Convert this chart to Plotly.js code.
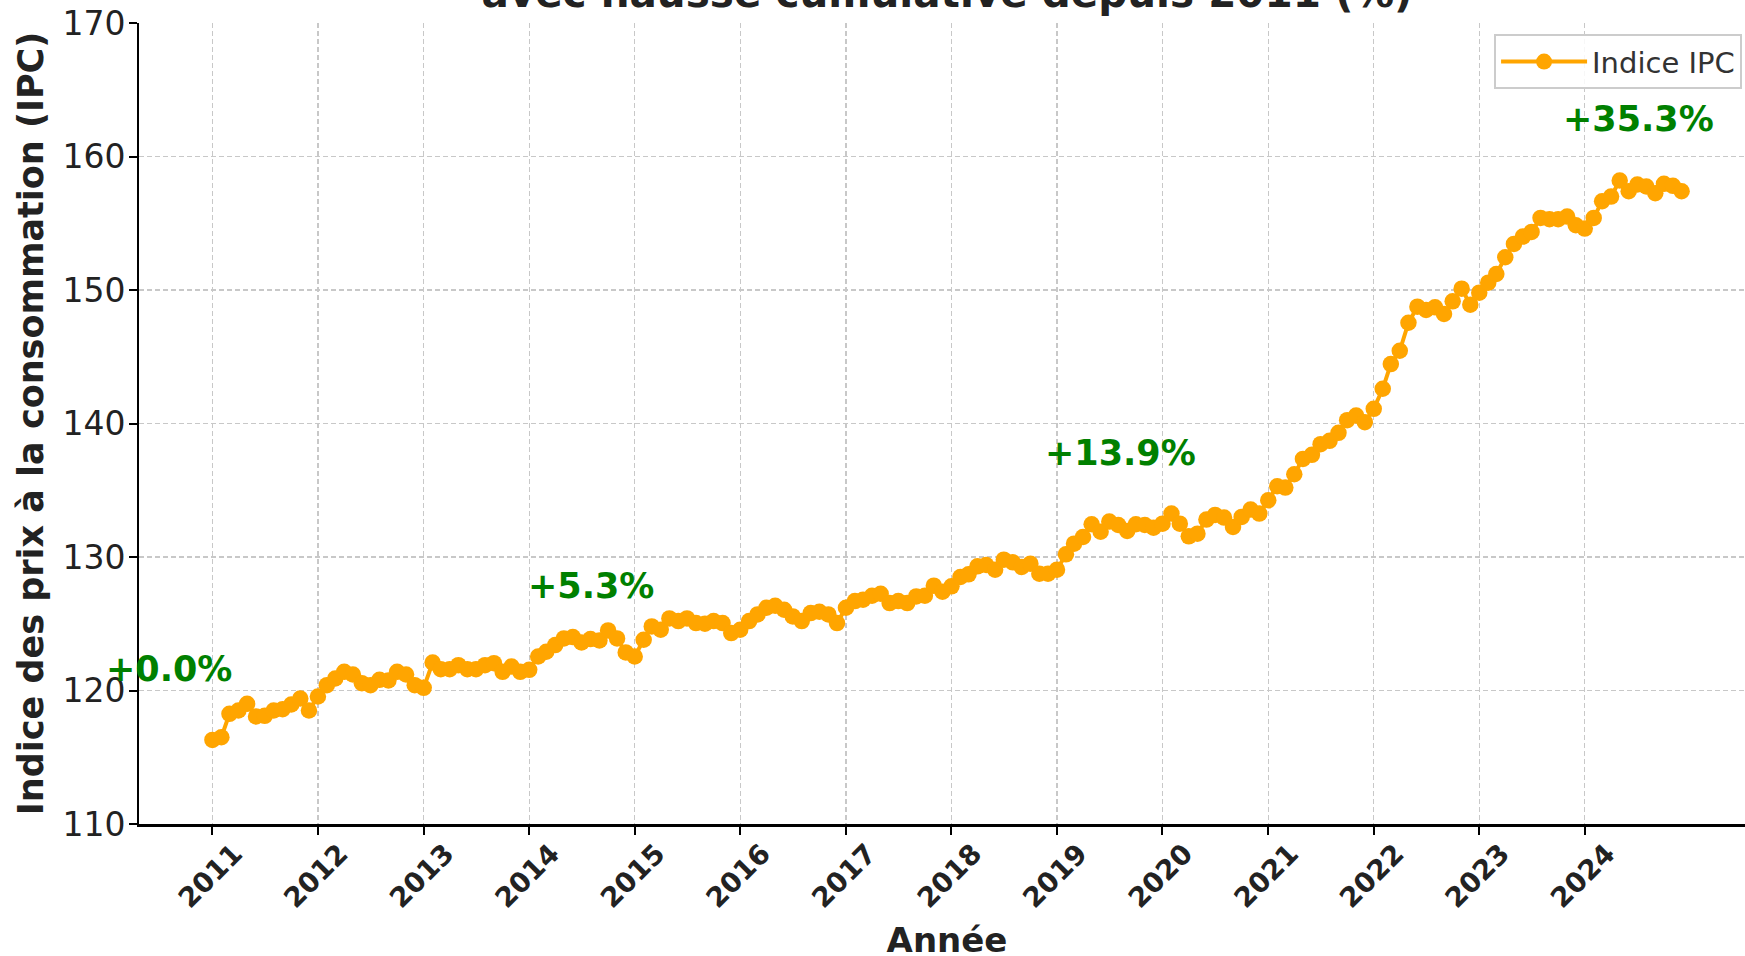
<!DOCTYPE html>
<html>
<head>
<meta charset="utf-8">
<script src="https://cdn.plot.ly/plotly-3.0.1.min.js"></script>
<style>
  html, body { margin: 0; padding: 0; overflow: hidden; background: #ffffff; }
  #chart { width: 1760px; height: 966px; }
</style>
</head>
<body>
<div id="chart"></div>
<script>
// Years covered (monthly values, January to December)
const years = [2011, 2012, 2013, 2014, 2015, 2016, 2017, 2018, 2019, 2020, 2021, 2022, 2023, 2024];

// Monthly CPI values, one array per year
const ipc2011 = [116.3, 116.5, 118.25, 118.5, 119.0, 118.05, 118.1, 118.5, 118.6, 118.95, 119.4, 118.5];
const ipc2012 = [119.55, 120.4, 120.9, 121.4, 121.2, 120.55, 120.4, 120.8, 120.75, 121.4, 121.2, 120.4];
const ipc2013 = [120.2, 122.1, 121.6, 121.6, 121.9, 121.6, 121.6, 121.9, 122.05, 121.4, 121.8, 121.4];
const ipc2014 = [121.55, 122.55, 122.9, 123.4, 123.9, 124.0, 123.6, 123.85, 123.75, 124.5, 123.9, 122.85];
const ipc2015 = [122.55, 123.8, 124.8, 124.55, 125.4, 125.2, 125.4, 125.05, 125.0, 125.2, 125.05, 124.3];
const ipc2016 = [124.55, 125.2, 125.7, 126.2, 126.35, 126.05, 125.55, 125.2, 125.8, 125.9, 125.7, 125.05];
const ipc2017 = [126.2, 126.7, 126.8, 127.1, 127.25, 126.55, 126.7, 126.55, 127.05, 127.1, 127.85, 127.4];
const ipc2018 = [127.8, 128.5, 128.7, 129.3, 129.4, 129.05, 129.8, 129.6, 129.25, 129.5, 128.75, 128.75];
const ipc2019 = [129.05, 130.2, 131.0, 131.5, 132.45, 131.9, 132.65, 132.4, 131.95, 132.45, 132.4, 132.2];
const ipc2020 = [132.5, 133.25, 132.5, 131.55, 131.75, 132.8, 133.15, 132.95, 132.25, 133.0, 133.55, 133.25];
const ipc2021 = [134.25, 135.3, 135.2, 136.2, 137.35, 137.65, 138.45, 138.7, 139.3, 140.25, 140.6, 140.1];
const ipc2022 = [141.1, 142.6, 144.45, 145.45, 147.55, 148.75, 148.5, 148.7, 148.2, 149.15, 150.1, 148.9];
const ipc2023 = [149.8, 150.55, 151.2, 152.45, 153.45, 154.0, 154.35, 155.4, 155.3, 155.3, 155.5, 154.85];
const ipc2024 = [154.6, 155.4, 156.65, 157.0, 158.2, 157.4, 157.9, 157.75, 157.25, 157.95, 157.8, 157.4];

// Tick labels
const xTickYears = ["2011", "2012", "2013", "2014", "2015", "2016", "2017", "2018", "2019", "2020", "2021", "2022", "2023", "2024"];
const yTickValues = [110, 120, 130, 140, 150, 160, 170];

// Cumulative increase annotations
const annotText = ["+0.0%", "+5.3%", "+13.9%", "+35.3%"];
const annotDates = ["2010-08-04", "2014-08-04", "2019-08-08", "2024-07-05"];
const annotValues = [121.6, 127.85, 137.8, 162.8];

// ---- build series ----
const perYear = [ipc2011, ipc2012, ipc2013, ipc2014, ipc2015, ipc2016, ipc2017, ipc2018, ipc2019, ipc2020, ipc2021, ipc2022, ipc2023, ipc2024];
const dates = [];
const values = [];
years.forEach((y, i) => {
  perYear[i].forEach((v, m) => {
    dates.push(y + "-" + String(m + 1).padStart(2, "0") + "-01");
    values.push(v);
  });
});

const FONT = "DejaVu Sans, Liberation Sans, sans-serif";
const ORANGE = "#FFA500";

const trace = {
  x: dates,
  y: values,
  type: "scatter",
  mode: "lines+markers",
  name: "Indice IPC",
  line: { color: ORANGE, width: 4 },
  marker: { color: ORANGE, size: 16.5, line: { width: 0 } },
  cliponaxis: false
};

const annotations = annotText.map((t, i) => ({
  x: annotDates[i],
  y: annotValues[i],
  xref: "x",
  yref: "y",
  text: t,
  showarrow: false,
  xanchor: "center",
  yanchor: "middle",
  font: { family: FONT, size: 35, color: "#008000", weight: "bold" }
}));

const layout = {
  width: 1760,
  height: 966,
  margin: { l: 139, r: 5, t: 23, b: 142 },
  paper_bgcolor: "#ffffff",
  plot_bgcolor: "#ffffff",
  font: { family: FONT, color: "#222222" },
  title: {
    text: "avec hausse cumulative depuis 2011 (%)",
    font: { family: FONT, size: 40.5, color: "#222222", weight: "bold" },
    x: 0.5,
    xref: "paper",
    y: 1 - 7 / 966,
    yref: "container",
    yanchor: "bottom"
  },
  xaxis: {
    type: "date",
    range: ["2010-04-22", "2025-08-12"],
    tickmode: "array",
    tickvals: xTickYears.map(y => y + "-01-01"),
    ticktext: xTickYears,
    tickangle: -45,
    tickfont: { family: FONT, size: 27.5, color: "#222222", weight: "bold" },
    ticklabelshift: 22,
    ticklabelstandoff: -8,
    ticks: "outside",
    ticklen: 8,
    tickwidth: 2,
    tickcolor: "#000000",
    showline: true,
    linecolor: "#000000",
    linewidth: 2.5,
    showgrid: true,
    gridcolor: "#c8c8c8",
    gridwidth: 1.3,
    griddash: "5px,3px",
    zeroline: false,
    title: {
      text: "Année",
      font: { family: FONT, size: 34, color: "#222222", weight: "bold" },
      standoff: 16
    }
  },
  yaxis: {
    range: [110, 170],
    tickmode: "array",
    tickvals: yTickValues,
    tickfont: { family: FONT, size: 33, color: "#222222" },
    ticklabelstandoff: -3,
    ticks: "outside",
    ticklen: 8,
    tickwidth: 2,
    tickcolor: "#000000",
    showline: true,
    linecolor: "#000000",
    linewidth: 2,
    showgrid: true,
    gridcolor: "#c8c8c8",
    gridwidth: 1.3,
    griddash: "5px,3px",
    zeroline: false,
    title: {
      text: "Indice des prix à la consommation (IPC)",
      font: { family: FONT, size: 35, color: "#222222", weight: "bold" },
      standoff: 8
    }
  },
  showlegend: true,
  legend: {
    x: 0.992,
    xanchor: "right",
    y: 0.986,
    yanchor: "top",
    bgcolor: "rgba(255,255,255,0.85)",
    bordercolor: "#cccccc",
    borderwidth: 2,
    itemwidth: 86,
    font: { family: FONT, size: 29, color: "#333333" }
  },
  annotations: annotations
};

Plotly.newPlot("chart", [trace], layout, { displayModeBar: false, staticPlot: true });
</script>
</body>
</html>
